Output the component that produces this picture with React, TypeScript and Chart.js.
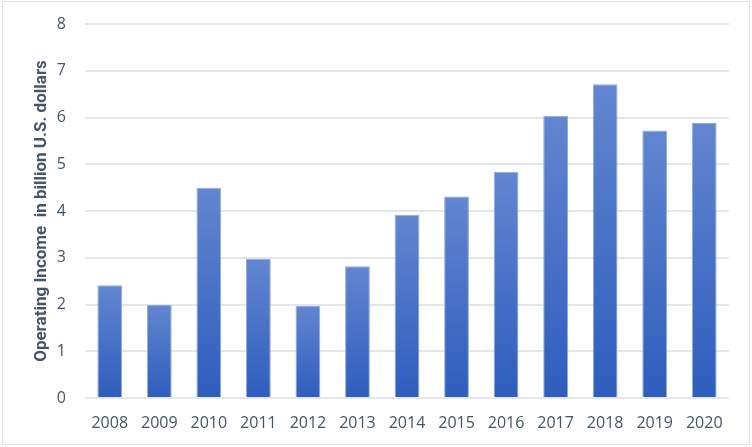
import React, { useEffect, useRef } from "react";
import { Chart, registerables } from "chart.js";

Chart.register(...registerables);

const years = ["2008", "2009", "2010", "2011", "2012", "2013", "2014", "2015", "2016", "2017", "2018", "2019", "2020"];
const operatingIncome = [2.41, 1.99, 4.5, 2.98, 1.97, 2.82, 3.92, 4.31, 4.84, 6.04, 6.71, 5.72, 5.88];
const yTicks = [0, 1, 2, 3, 4, 5, 6, 7, 8];
const yTitle = "Operating Income  in billion U.S. dollars";

const TEXT = "#44546a";
const GRID = "#e3e6ec";

export default function App() {
  const ref = useRef<HTMLCanvasElement>(null);

  useEffect(() => {
    document.body.style.margin = "0";
    const canvas = ref.current!;
    const chart = new Chart(canvas, {
      type: "bar",
      data: {
        labels: years,
        datasets: [
          {
            data: operatingIncome,
            backgroundColor: (ctx: any) => {
              const c = ctx.chart;
              const y = c.scales?.y;
              if (!y || ctx.raw == null) return "#4472c4";
              const top = y.getPixelForValue(ctx.raw);
              const bot = y.getPixelForValue(0);
              if (!isFinite(top) || !isFinite(bot) || top === bot) return "#4472c4";
              const g = c.ctx.createLinearGradient(0, top, 0, bot);
              g.addColorStop(0, "#6286d0");
              g.addColorStop(1, "#2e5dbd");
              return g;
            },
            borderColor: "#8eaae0",
            borderWidth: 1,
            barPercentage: 0.5,
            categoryPercentage: 1.0,
          },
        ],
      },
      options: {
        animation: false,
        responsive: false,
        maintainAspectRatio: false,
        layout: { padding: { left: 4, right: 23, top: 24, bottom: 0 } },
        plugins: { legend: { display: false }, tooltip: { enabled: false } },
        scales: {
          x: {
            grid: { display: false, drawTicks: false },
            border: { display: false },
            ticks: {
              color: TEXT,
              font: { family: "Open Sans", size: 16 },
              padding: 16,
              maxRotation: 0,
            },
            afterFit: (s: any) => {
              s.height = 49;
              s.paddingLeft = 0;
              s.paddingRight = 0;
            },
          },
          y: {
            min: 0,
            max: 8,
            afterBuildTicks: (s: any) => {
              s.ticks = yTicks.map((v) => ({ value: v }));
            },
            grid: { color: GRID, lineWidth: 2, drawTicks: false },
            border: { display: false },
            ticks: {
              color: TEXT,
              font: { family: "Open Sans", size: 16 },
              padding: 19,
            },
            title: {
              display: true,
              text: yTitle,
              color: TEXT,
              font: { family: "Roboto", size: 17, weight: "bold", lineHeight: 1.2 },
              padding: { top: 28, bottom: 0 },
            },
            afterFit: (s: any) => {
              s.width = 81;
              s.paddingTop = 0;
              s.paddingBottom = 0;
            },
          },
        },
      },
    });
    return () => chart.destroy();
  }, []);

  return (
    <div style={{ position: "absolute", left: 0, top: 0, width: 752, height: 447, background: "#fff" }}>
      <canvas ref={ref} width={752} height={447} style={{ display: "block", width: 752, height: 447 }} />
      <div
        style={{
          position: "absolute",
          left: 2,
          top: 1,
          width: 746,
          height: 442,
          border: "1.5px solid #dde1e8",
          pointerEvents: "none",
        }}
      />
    </div>
  );
}
